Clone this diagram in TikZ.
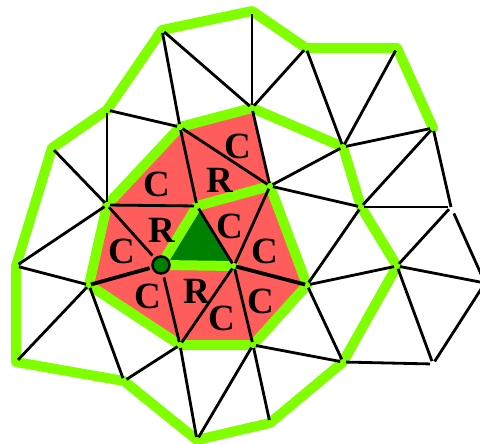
\documentclass[tikz,border=0pt]{standalone}
\usepackage{fontspec}
\setmainfont{Liberation Serif}
\tikzset{
  x=1pt,y=-1pt,
  ring/.style={draw=limeg,line width=10pt,line join=round,line cap=round},
  mesh/.style={draw=black,line width=2.8pt,shorten >=3pt,shorten <=3pt},
  heavy/.style={draw=black,line width=3.8pt,shorten >=2pt,shorten <=2pt},
  lab/.style={font=\fontsize{37}{37}\selectfont\bfseries,text=black,inner sep=0pt},
}
\definecolor{limeg}{RGB}{127,255,0}
\definecolor{redf}{RGB}{255,92,92}
\definecolor{darkg}{RGB}{0,128,0}
\begin{document}
\begin{tikzpicture}
\useasboundingbox (0,0) rectangle (480,444);
% outer vertices
\coordinate (a1) at (16,266);
\coordinate (a2) at (52,148);
\coordinate (a3) at (107,110);
\coordinate (a4) at (162,30);
\coordinate (a5) at (252,11);
\coordinate (a6) at (306,48);
\coordinate (a7) at (397,48);
\coordinate (a8) at (433,128);
% middle ring
\coordinate (b1) at (252,108);
\coordinate (b2) at (343,147);
\coordinate (b3) at (361,207);
\coordinate (b4) at (397,266);
\coordinate (b5) at (343,362);
\coordinate (b6) at (270,423);
\coordinate (b7) at (197,440);
\coordinate (b8) at (124,381);
\coordinate (b9) at (16,362);
% inner ring
\coordinate (c1) at (107,205);
\coordinate (c2) at (180,127);
\coordinate (c3) at (270,186);
\coordinate (c4) at (307,285);
\coordinate (c5) at (253,345);
\coordinate (c6) at (180,345);
\coordinate (c7) at (89,285);
% centre triangle
\coordinate (t1) at (197,206);
\coordinate (t2) at (234,266);
\coordinate (t3) at (161,265);
% far right
\coordinate (d1) at (451,207);
\coordinate (d2) at (485,283);
\coordinate (d3) at (433,364);
% fills
\fill[redf] (c1)--(c2)--(b1)--(c3)--(c4)--(c5)--(c6)--(c7)--cycle;
\fill[darkg] (t3)--(t1)--(t2)--cycle;
% green rings
\draw[ring] (a8)--(a7)--(a6)--(a5)--(a4)--(a3)--(a2)--(a1)--(b9)--(b8)--(b7)--(b6)--(b5)--(b4)--(b3)--(b2)--(b1)--(c2)--(c1)--(c7)--(c6)--(c5)--(c4)--(c3)--(t1)--(t3)--(t2);
% labels
\node[lab] (l1) at (157,184) {C};
\node[lab] (l2) at (220,180) {R};
\node[lab] (l3) at (238,146) {C};
\node[lab] (l4) at (162,230) {R};
\node[lab] (l5) at (122,251) {C};
\node[lab] (l6) at (230,226) {C};
\node[lab] (l7) at (265,251) {C};
\node[lab] (l8) at (148,296) {C};
\node[lab] (l9) at (197,291) {R};
\node[lab] (l10) at (222,318) {C};
\node[lab] (l11) at (261,301) {C};
% centre vertex
\node[circle,draw=black,fill=darkg,line width=2.5pt,minimum size=17pt,inner sep=0pt] (v) at (t3) {};
% mesh
\draw[mesh] (a4)--(b1);
\draw[mesh] (a4)--(c2);
\draw[mesh] (a3)--(c1);
\draw[mesh] (a3)--(c2);
\draw[mesh] (a2)--(c1);
\draw[mesh] (a5)--(b1);
\draw[mesh] (a6)--(b1);
\draw[mesh] (a6)--(b2);
\draw[mesh] (a7)--(b2);
\draw[mesh] (a8)--(b2);
\draw[mesh] (a8)--(b3);
\draw[mesh,shorten >=0pt] (a8)--(d1);
\draw[mesh] (b3)--(d1);
\draw[mesh] (d1)--(b4);
\draw[mesh,shorten <=7pt] (d1)--(d2);
\draw[mesh] (b4)--(d2);
\draw[mesh] (d2)--(d3);
\draw[mesh] (b5)--(d3);
\draw[mesh] (b4)--(d3);
\draw[mesh] (b4)--(c4);
\draw[mesh] (c4)--(b3);
\draw[mesh] (c3)--(b3);
\draw[mesh] (c3)--(b2);
\draw[mesh] (b1)--(c3);
\draw[mesh] (c4)--(b5);
\draw[mesh] (c5)--(b5);
\draw[mesh] (c5)--(b6);
\draw[mesh] (c5)--(b7);
\draw[mesh] (c6)--(b7);
\draw[mesh] (c6)--(b8);
\draw[mesh] (c7)--(b8);
\draw[mesh] (c7)--(b9);
\draw[mesh] (a1)--(c7);
\draw[mesh] (a1)--(c1);
\draw[mesh] (c1)--(t1);
\draw[mesh] (c2)--(t1);
\draw[mesh] (c2)--(c3);
\draw[mesh] (c1)--(v);
\draw[heavy] (c7)--(v);
\draw[mesh] (v)--(c6);
\draw[mesh] (c6)--(t2);
\draw[heavy] (t2)--(c4);
\draw[mesh] (t2)--(c5);
\draw[mesh] (t1)--(t2);
\draw[mesh] (c3)--(t2);
\end{tikzpicture}
\end{document}
